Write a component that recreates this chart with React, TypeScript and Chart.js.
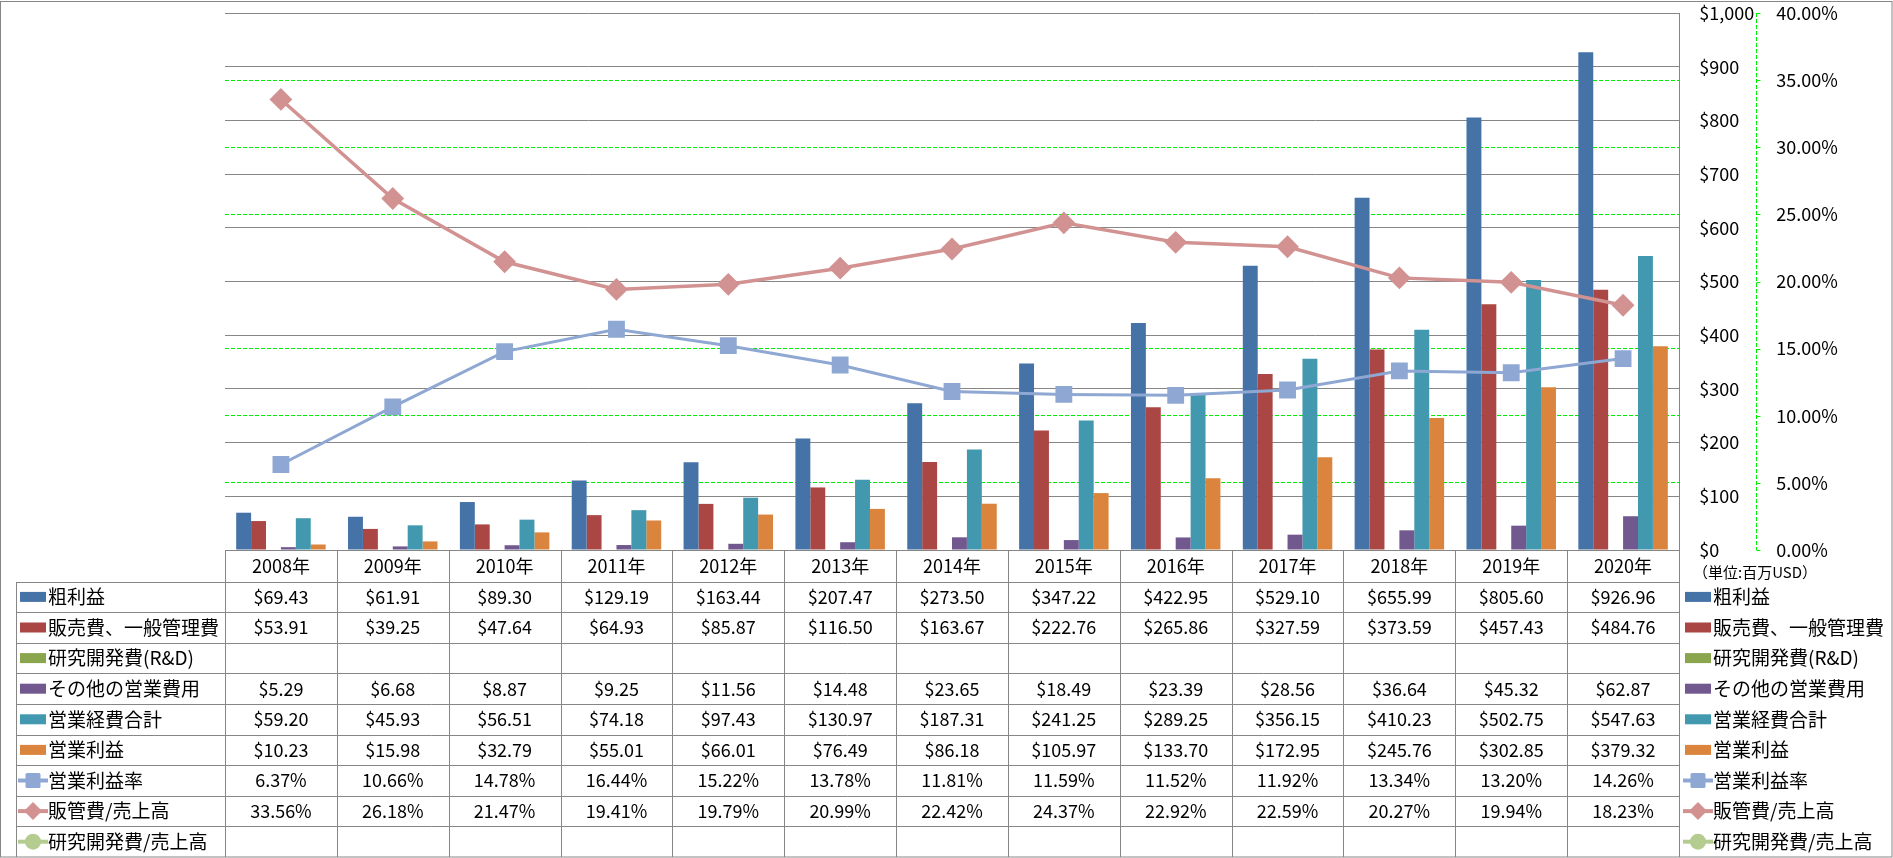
import React, { useEffect, useRef } from 'react';
import { Chart, registerables } from 'chart.js';

Chart.register(...registerables);

const FONT = "'Noto Sans CJK JP', 'Noto Sans', sans-serif";
const GRID = '#868686';
const GREEN = '#00EE00';

const years = ['2008年', '2009年', '2010年', '2011年', '2012年', '2013年', '2014年', '2015年', '2016年', '2017年', '2018年', '2019年', '2020年'];

const grossProfit = [69.43, 61.91, 89.3, 129.19, 163.44, 207.47, 273.5, 347.22, 422.95, 529.1, 655.99, 805.6, 926.96];
const sgaExpense = [53.91, 39.25, 47.64, 64.93, 85.87, 116.5, 163.67, 222.76, 265.86, 327.59, 373.59, 457.43, 484.76];
const rndExpense: (number | null)[] = [null, null, null, null, null, null, null, null, null, null, null, null, null];
const otherOpex = [5.29, 6.68, 8.87, 9.25, 11.56, 14.48, 23.65, 18.49, 23.39, 28.56, 36.64, 45.32, 62.87];
const totalOpex = [59.2, 45.93, 56.51, 74.18, 97.43, 130.97, 187.31, 241.25, 289.25, 356.15, 410.23, 502.75, 547.63];
const operatingIncome = [10.23, 15.98, 32.79, 55.01, 66.01, 76.49, 86.18, 105.97, 133.7, 172.95, 245.76, 302.85, 379.32];

const operatingMargin = [6.37, 10.66, 14.78, 16.44, 15.22, 13.78, 11.81, 11.59, 11.52, 11.92, 13.34, 13.2, 14.26];
const sgaRatio = [33.56, 26.18, 21.47, 19.41, 19.79, 20.99, 22.42, 24.37, 22.92, 22.59, 20.27, 19.94, 18.23];
const rndRatio: (number | null)[] = [null, null, null, null, null, null, null, null, null, null, null, null, null];

const barLabels = ['粗利益', '販売費、一般管理費', '研究開発費(R&D)', 'その他の営業費用', '営業経費合計', '営業利益'];
const barColors = ['#4572A7', '#AA4643', '#89A54E', '#71588F', '#4198AF', '#DB843D'];
const lineLabels = ['営業利益率', '販管費/売上高', '研究開発費/売上高'];
const lineColors = ['#8FA8D3', '#D29292', '#B5CC91'];
const lineMarkers = ['rect', 'rectRot', 'circle'];

const dollarMin = 0;
const dollarMax = 1000;
const dollarStep = 100;
const pctMin = 0;
const pctMax = 40;
const pctStep = 5;
const unitLabel = '（単位:百万USD）';

function line(ctx: CanvasRenderingContext2D, x1: number, y1: number, x2: number, y2: number) {
  ctx.beginPath();
  ctx.moveTo(x1, y1);
  ctx.lineTo(x2, y2);
  ctx.stroke();
}

function drawKey(ctx: CanvasRenderingContext2D, x: number, cy: number, ds: any) {
  ctx.save();
  if (ds.type === 'line') {
    const c = ds.borderColor;
    ctx.strokeStyle = c;
    ctx.fillStyle = c;
    ctx.lineWidth = 4;
    line(ctx, x - 2, cy, x + 28, cy);
    const mx = x + 13;
    if (ds.pointStyle === 'rect') {
      ctx.beginPath();
      ctx.lineJoin = 'round';
      ctx.lineWidth = 3;
      ctx.rect(mx - 6, cy - 6, 12, 12);
      ctx.fill();
      ctx.stroke();
    } else if (ds.pointStyle === 'rectRot') {
      ctx.beginPath();
      ctx.moveTo(mx, cy - 9);
      ctx.lineTo(mx + 9, cy);
      ctx.lineTo(mx, cy + 9);
      ctx.lineTo(mx - 9, cy);
      ctx.closePath();
      ctx.fill();
    } else {
      ctx.beginPath();
      ctx.arc(mx, cy, 8, 0, Math.PI * 2);
      ctx.fill();
    }
  } else {
    ctx.fillStyle = ds.backgroundColor;
    ctx.fillRect(x, cy - 5, 26, 10);
  }
  ctx.restore();
}

const tablePlugin = {
  id: 'excelTable',
  beforeDraw(chart: any) {
    const { ctx, width, height } = chart;
    ctx.save();
    ctx.fillStyle = '#ffffff';
    ctx.fillRect(0, 0, width, height);
    ctx.restore();
  },
  afterDraw(chart: any) {
    const { ctx, chartArea, width, height } = chart;
    const xs = chart.scales.x;
    const y1s = chart.scales.y1;
    const n = chart.data.labels.length;
    const colW = (chartArea.right - chartArea.left) / n;
    const top = chartArea.bottom + 1;
    const rowCount = chart.data.datasets.length + 1;
    const rowH = (height - 1 - top) / rowCount;
    const tableLeft = 16;

    ctx.save();
    ctx.strokeStyle = GRID;
    ctx.lineWidth = 1;
    for (let r = 1; r < rowCount; r++) {
      const y = Math.round(top + r * rowH) + 0.5;
      line(ctx, tableLeft, y, chartArea.right, y);
    }
    line(ctx, tableLeft + 0.5, Math.round(top + rowH), tableLeft + 0.5, height - 1);
    for (let c = 0; c <= n; c++) {
      const x = Math.round(chartArea.left + c * colW) + 0.5;
      line(ctx, x, chartArea.bottom, x, height - 1);
    }
    // outer border
    ctx.strokeRect(0.5, 1.5, width - 1.5, height - 2.5);

    // percent axis dashed line and short tick marks
    ctx.strokeStyle = GREEN;
    ctx.setLineDash([4, 2]);
    const ax = Math.round(y1s.left) + 0.5;
    line(ctx, ax, chartArea.top, ax, chartArea.bottom);
    ctx.setLineDash([]);
    y1s.ticks.forEach((t: any) => {
      const ty = Math.round(y1s.getPixelForValue(t.value)) + 0.5;
      line(ctx, ax, ty, ax + 4, ty);
    });

    // unit label
    ctx.fillStyle = '#000';
    ctx.font = `15px ${FONT}`;
    ctx.textAlign = 'left';
    ctx.textBaseline = 'middle';
    ctx.fillText(unitLabel, chartArea.right + 14, chartArea.bottom + 22);

    // rows
    chart.data.datasets.forEach((ds: any, r: number) => {
      const cy = top + (r + 1) * rowH + rowH / 2;
      drawKey(ctx, 20, cy, ds);
      drawKey(ctx, chartArea.right + 6, cy, ds);
      ctx.fillStyle = '#000';
      ctx.font = `19px ${FONT}`;
      ctx.textAlign = 'left';
      ctx.textBaseline = 'middle';
      ctx.fillText(ds.label, 48, cy);
      ctx.fillText(ds.label, chartArea.right + 34, cy);
      ctx.font = `18px ${FONT}`;
      ctx.textAlign = 'center';
      ds.data.forEach((v: number | null, i: number) => {
        if (v === null || v === undefined) return;
        const txt = ds.type === 'line' ? `${v.toFixed(2)}%` : `$${v.toFixed(2)}`;
        ctx.fillText(txt, xs.getPixelForValue(i), cy);
      });
    });
    ctx.restore();
  },
};

export default function App() {
  const ref = useRef<HTMLCanvasElement | null>(null);

  useEffect(() => {
    document.body.style.margin = '0';
    if (!ref.current) return;
    Chart.defaults.font.family = FONT;
    const barData = [grossProfit, sgaExpense, rndExpense, otherOpex, totalOpex, operatingIncome];
    const lineData = [operatingMargin, sgaRatio, rndRatio];
    const datasets: any[] = [
      ...barData.map((d, i) => ({
        type: 'bar',
        label: barLabels[i],
        data: d,
        backgroundColor: barColors[i],
        borderWidth: 0,
        yAxisID: 'y',
        order: 2,
        categoryPercentage: 0.8,
        barPercentage: 1.0,
      })),
      ...lineData.map((d, i) => ({
        type: 'line',
        label: lineLabels[i],
        data: d,
        borderColor: lineColors[i],
        backgroundColor: lineColors[i],
        borderWidth: i === 1 ? 3.5 : 3,
        pointStyle: lineMarkers[i],
        pointRadius: i === 1 ? 10 : 10.5,
        pointBorderWidth: 2,
        pointBackgroundColor: lineColors[i],
        pointBorderColor: lineColors[i],
        yAxisID: 'y1',
        order: 1,
        tension: 0,
      })),
    ];

    const chart = new Chart(ref.current, {
      type: 'bar',
      data: { labels: years, datasets },
      plugins: [tablePlugin],
      options: {
        responsive: false,
        animation: false,
        devicePixelRatio: 1,
        layout: { padding: { left: 225, top: 0, right: 0, bottom: 0 } },
        plugins: { legend: { display: false }, tooltip: { enabled: false } },
        scales: {
          x: {
            type: 'category',
            position: 'bottom',
            offset: true,
            grid: { display: false, drawTicks: false },
            border: { display: true, color: GRID, width: 1 },
            ticks: { color: '#000', font: { size: 18, family: FONT }, padding: 5, maxRotation: 0, autoSkip: false },
            afterFit: (s: any) => { s.height = 308; },
          },
          y: {
            position: 'right',
            weight: 0,
            min: dollarMin,
            max: dollarMax,
            grid: { color: GRID, lineWidth: 1, drawTicks: true, tickLength: 18, tickColor: 'rgba(0,0,0,0)' },
            border: { display: true, color: GRID, width: 1 },
            ticks: {
              stepSize: dollarStep,
              color: '#000',
              padding: 2.2,
              font: { size: 18, family: FONT },
              callback: (v: any) => '$' + Number(v).toLocaleString('en-US'),
            },
            afterFit: (s: any) => { s.width = 77; },
          },
          y1: {
            position: 'right',
            weight: 1,
            min: pctMin,
            max: pctMax,
            grid: {
              drawOnChartArea: true,
              color: (c: any) => (c.tick && [0, 20, 40].includes(c.tick.value) ? 'rgba(0,0,0,0)' : GREEN),
              tickColor: 'rgba(0,0,0,0)',
              lineWidth: 1,
              drawTicks: true,
              tickLength: 18,
            },
            border: { display: false, dash: [4, 2] },
            ticks: {
              stepSize: pctStep,
              color: '#000',
              padding: 2.2,
              font: { size: 18, family: FONT },
              callback: (v: any) => Number(v).toFixed(2) + '%',
            },
            afterFit: (s: any) => { s.width = 137; },
          },
        },
      } as any,
    });
    return () => chart.destroy();
  }, []);

  return (
    <div style={{ width: 1893, height: 858 }}>
      <canvas ref={ref} width={1893} height={858} style={{ display: 'block' }} />
    </div>
  );
}
